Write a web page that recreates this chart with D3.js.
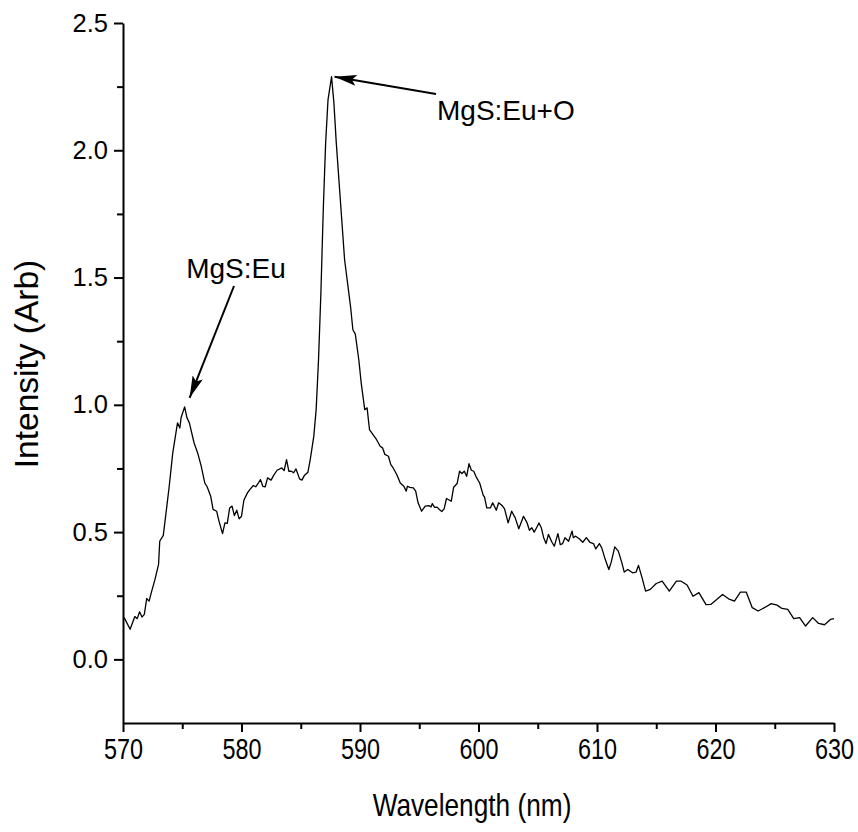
<!DOCTYPE html>
<html>
<head>
<meta charset="utf-8">
<script src="https://cdn.jsdelivr.net/npm/d3@7"></script>
<style>
  body { margin: 0; background: #fff; }
  svg text { font-family: "Liberation Sans", Arial, sans-serif; fill: #000; }
</style>
</head>
<body>
<svg id="chart" width="858" height="832"></svg>
<script>
const wavelength = [570.1,570.6,571.0,571.2,571.4,571.6,571.8,572.0,572.2,572.4,572.7,573.0,573.1,573.4,573.7,573.9,574.2,574.6,574.8,574.9,575.2,575.4,575.6,576.0,576.3,576.6,576.9,577.1,577.4,577.6,577.9,578.1,578.4,578.6,578.8,579.0,579.2,579.4,579.6,579.8,580.0,580.2,580.5,580.7,581.0,581.2,581.4,581.6,581.8,582.0,582.2,582.5,582.7,583.0,583.4,583.6,583.8,584.0,584.2,584.4,584.6,584.9,585.1,585.3,585.6,585.8,586.1,586.3,586.5,586.7,586.9,587.1,587.3,587.6,587.8,588.0,588.3,588.7,589.2,589.4,589.6,589.9,590.1,590.4,590.6,590.8,591.1,591.4,591.7,591.9,592.1,592.4,592.6,592.8,593.1,593.4,593.7,593.9,594.0,594.2,594.5,594.7,594.9,595.2,595.5,595.8,596.0,596.1,596.3,596.5,596.7,596.9,597.1,597.3,597.7,597.9,598.2,598.4,598.6,598.8,599.0,599.2,599.4,599.6,599.8,600.1,600.4,600.5,600.7,601.0,601.2,601.5,601.7,602.0,602.2,602.5,602.8,603.1,603.4,603.8,604.1,604.3,604.5,604.7,604.9,605.1,605.3,605.5,605.7,605.9,606.2,606.4,606.7,606.9,607.1,607.3,607.6,607.9,608.0,608.2,608.5,608.8,609.1,609.4,609.7,609.9,610.2,610.4,610.7,611.0,611.2,611.5,611.8,612.1,612.3,612.6,613.0,613.3,613.5,613.8,614.1,614.5,615.0,615.5,616.1,616.7,617.1,617.6,618.1,618.6,619.2,619.6,620.1,620.6,621.1,621.6,622.1,622.6,623.1,623.6,624.2,624.7,625.2,625.6,626.1,626.6,627.1,627.6,628.2,628.7,629.2,629.7,630.0];
const intensity = [0.164,0.118,0.168,0.160,0.187,0.166,0.177,0.239,0.229,0.264,0.314,0.373,0.464,0.487,0.602,0.680,0.811,0.929,0.909,0.949,0.992,0.949,0.929,0.850,0.811,0.759,0.693,0.678,0.641,0.589,0.582,0.543,0.494,0.536,0.534,0.595,0.602,0.565,0.586,0.552,0.562,0.625,0.654,0.667,0.683,0.678,0.691,0.706,0.680,0.678,0.713,0.704,0.722,0.743,0.752,0.742,0.785,0.739,0.739,0.733,0.748,0.709,0.704,0.722,0.735,0.785,0.876,0.981,1.177,1.439,1.766,2.028,2.198,2.289,2.185,2.028,1.832,1.570,1.387,1.295,1.279,1.177,1.086,0.981,0.988,0.903,0.883,0.863,0.837,0.831,0.805,0.798,0.765,0.752,0.726,0.693,0.680,0.661,0.680,0.676,0.674,0.661,0.615,0.582,0.602,0.604,0.599,0.612,0.597,0.598,0.589,0.581,0.591,0.632,0.621,0.676,0.691,0.739,0.730,0.739,0.719,0.769,0.743,0.739,0.717,0.693,0.644,0.639,0.595,0.595,0.615,0.586,0.615,0.604,0.591,0.536,0.582,0.556,0.513,0.562,0.536,0.507,0.517,0.500,0.517,0.536,0.517,0.478,0.455,0.491,0.460,0.445,0.494,0.451,0.455,0.478,0.464,0.504,0.478,0.484,0.474,0.460,0.478,0.460,0.455,0.434,0.455,0.438,0.392,0.353,0.382,0.442,0.425,0.379,0.343,0.353,0.340,0.343,0.369,0.321,0.268,0.275,0.298,0.307,0.268,0.307,0.307,0.292,0.248,0.262,0.215,0.216,0.235,0.255,0.238,0.229,0.264,0.264,0.203,0.190,0.205,0.219,0.213,0.200,0.196,0.160,0.164,0.131,0.164,0.141,0.136,0.157,0.160];
const xMajorTicks = [570,580,590,600,610,620,630];
const xMinorTicks = [575,585,595,605,615,625];
const yMajorTicks = [0.0,0.5,1.0,1.5,2.0,2.5];
const yMinorTicks = [0.25,0.75,1.25,1.75,2.25];
const annotations = [
  {label: "MgS:Eu", x: 575.2, y: 0.992},
  {label: "MgS:Eu+O", x: 587.6, y: 2.289}
];

const svg = d3.select("#chart");
const x = d3.scaleLinear().domain([570, 630]).range([123, 834]);
const y = d3.scaleLinear().domain([-0.25, 2.5]).range([723, 23]);

svg.append("defs").append("marker")
  .attr("id", "arrow").attr("viewBox", "0 0 10 10")
  .attr("refX", 10).attr("refY", 5)
  .attr("markerWidth", 22).attr("markerHeight", 11)
  .attr("markerUnits", "userSpaceOnUse")
  .attr("orient", "auto")
  .attr("preserveAspectRatio", "none")
  .append("path").attr("d", "M0,0 L10,5 L0,10 L2,5 Z").attr("fill", "#000");

// axes
const xAxis = svg.append("g").attr("transform", `translate(0,${y(-0.25)})`)
  .call(d3.axisBottom(x).tickValues(xMajorTicks).tickFormat(d3.format("d")).tickSize(9).tickSizeOuter(0));
svg.append("g").attr("transform", `translate(0,${y(-0.25)})`)
  .call(d3.axisBottom(x).tickValues(xMinorTicks).tickFormat("").tickSize(6).tickSizeOuter(0))
  .select(".domain").remove();
const yAxis = svg.append("g").attr("transform", `translate(${x(570)},0)`)
  .call(d3.axisLeft(y).tickValues(yMajorTicks).tickFormat(d3.format(".1f")).tickSize(9).tickSizeOuter(0));
svg.append("g").attr("transform", `translate(${x(570)},0)`)
  .call(d3.axisLeft(y).tickValues(yMinorTicks).tickFormat("").tickSize(6).tickSizeOuter(0))
  .select(".domain").remove();

svg.selectAll(".domain").attr("stroke", "#000").attr("stroke-width", 2);
svg.selectAll(".tick line").attr("stroke", "#000").attr("stroke-width", 2);
xAxis.selectAll(".tick text")
  .attr("y", 0).attr("dy", null)
  .style("font-size", "30px")
  .attr("transform", "translate(0,36) scale(0.78,1)");
yAxis.selectAll(".tick text")
  .style("font-size", "25.5px")
  .attr("x", -15);

// axis titles
svg.append("text")
  .attr("transform", `translate(472,816) scale(0.82,1)`)
  .attr("text-anchor", "middle").style("font-size", "32px").text("Wavelength (nm)");
svg.append("text").attr("transform", `translate(38,364) rotate(-90)`)
  .attr("text-anchor", "middle").style("font-size", "33.5px").text("Intensity (Arb)");

// line
const line = d3.line().x((d, i) => x(wavelength[i])).y((d, i) => y(intensity[i]));
svg.append("path").datum(intensity).attr("d", line)
  .attr("fill", "none").attr("stroke", "#000").attr("stroke-width", 1.3)
  .attr("stroke-linejoin", "round");

// annotations
const a1 = annotations[0];
svg.append("text").attr("x", 236).attr("y", 278).attr("text-anchor", "middle")
  .style("font-size", "28px").text(a1.label);
svg.append("line").attr("x1", 234).attr("y1", 286)
  .attr("x2", x(a1.x) + 5).attr("y2", y(a1.y) - 9)
  .attr("stroke", "#000").attr("stroke-width", 2).attr("marker-end", "url(#arrow)");

const a2 = annotations[1];
svg.append("text").attr("x", 437).attr("y", 120).attr("text-anchor", "start")
  .style("font-size", "28px").text(a2.label);
svg.append("line").attr("x1", 436).attr("y1", 94)
  .attr("x2", x(a2.x) + 3).attr("y2", y(a2.y))
  .attr("stroke", "#000").attr("stroke-width", 2).attr("marker-end", "url(#arrow)");
</script>
</body>
</html>
